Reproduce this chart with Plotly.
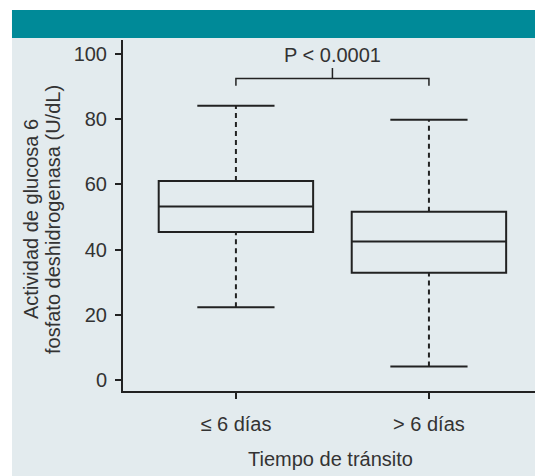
import plotly.graph_objects as go

# ---- data ----
categories = ["≤ 6 días", "> 6 días"]
q1 = [45.4, 32.9]
median = [53.2, 42.5]
q3 = [61.0, 51.6]
lower_whisker = [22.3, 4.1]
upper_whisker = [84.1, 79.8]
y_ticks = [0, 20, 40, 60, 80, 100]
p_label = "P < 0.0001"
bracket_y = 92.5
y_title_lines = ["Actividad de glucosa 6", "fosfato deshidrogenasa (U/dL)"]
x_title = "Tiempo de tránsito"

# ---- style ----
FONT = "Liberation Sans"
FS = 20
TITLE_FS = 20
TXT = "#333333"
LINE = "#222222"
PANEL = "#E3EBEE"
TEAL = "#008A98"

xpos = list(range(len(categories)))
box_w = 0.8
cap_half = 0.2

fig = go.Figure()

for i, x in enumerate(xpos):
    # dashed whiskers
    fig.add_trace(go.Scatter(x=[x, x], y=[q3[i], upper_whisker[i]], mode="lines",
                             line=dict(color=LINE, width=2, dash="5px,4px"),
                             showlegend=False, hoverinfo="skip"))
    fig.add_trace(go.Scatter(x=[x, x], y=[lower_whisker[i], q1[i]], mode="lines",
                             line=dict(color=LINE, width=2, dash="5px,4px"),
                             showlegend=False, hoverinfo="skip"))
    # caps
    for yv in (upper_whisker[i], lower_whisker[i]):
        fig.add_trace(go.Scatter(x=[x - cap_half, x + cap_half], y=[yv, yv], mode="lines",
                                 line=dict(color=LINE, width=2),
                                 showlegend=False, hoverinfo="skip"))
    # box
    fig.add_trace(go.Box(x=[x], q1=[q1[i]], median=[median[i]], q3=[q3[i]],
                         lowerfence=[q1[i]], upperfence=[q3[i]],
                         width=box_w, whiskerwidth=0,
                         fillcolor="rgba(0,0,0,0)", line=dict(color=LINE, width=2),
                         showlegend=False, hoverinfo="skip"))

# significance bracket
fig.add_trace(go.Scatter(x=[xpos[0], xpos[0], xpos[1], xpos[1]],
                         y=[bracket_y - 2.2, bracket_y, bracket_y, bracket_y - 2.2],
                         mode="lines", line=dict(color=LINE, width=1.5),
                         showlegend=False, hoverinfo="skip"))
mid = (xpos[0] + xpos[1]) / 2
fig.add_trace(go.Scatter(x=[mid, mid], y=[bracket_y, bracket_y + 3.2], mode="lines",
                         line=dict(color=LINE, width=1.5),
                         showlegend=False, hoverinfo="skip"))
fig.add_annotation(x=mid, y=bracket_y + 3.2, text=p_label, showarrow=False,
                   yanchor="bottom", yshift=0, font=dict(family=FONT, size=FS, color=TXT))

# y-axis title (two rotated lines, tighter spacing than a <br> title)
for xp, line_txt in zip([-0.2217, -0.1687], y_title_lines):
    fig.add_annotation(xref="paper", yref="paper", x=xp, y=0.49, text=line_txt,
                       textangle=-90, showarrow=False, xanchor="center", yanchor="middle",
                       font=dict(family=FONT, size=TITLE_FS, color=TXT))

# background panel and teal header (paper coordinates)
fig.add_shape(type="rect", xref="paper", yref="paper", x0=-0.2675, x1=1.1, y0=-0.35, y1=1.0855,
              fillcolor=PANEL, line_width=0, layer="below")
fig.add_shape(type="rect", xref="paper", yref="paper", x0=-0.2675, x1=1.1, y0=1.0057, y1=1.0855,
              fillcolor=TEAL, line_width=0, layer="below")

fig.update_layout(
    width=543, height=476,
    margin=dict(l=115, r=13, t=32, b=93),
    paper_bgcolor="white", plot_bgcolor="rgba(0,0,0,0)",
    font=dict(family=FONT, size=FS, color=TXT),
    xaxis=dict(range=[-0.585, 1.565], tickvals=xpos, ticktext=categories,
               showgrid=False, zeroline=False, showline=True, linecolor=LINE, linewidth=2,
               ticks="outside", ticklen=6, tickwidth=2, tickcolor=LINE,
               ticklabelstandoff=8,
               title=dict(text=x_title, standoff=18, font=dict(size=TITLE_FS)),
               tickfont=dict(size=FS)),
    yaxis=dict(range=[-3.4, 104.3], tickvals=y_ticks,
               showgrid=False, zeroline=False, showline=True, linecolor=LINE, linewidth=2,
               ticks="outside", ticklen=6, tickwidth=2, tickcolor=LINE,
               ticklabelstandoff=4,
               tickfont=dict(size=FS)),
)

fig.write_html("out.html")
